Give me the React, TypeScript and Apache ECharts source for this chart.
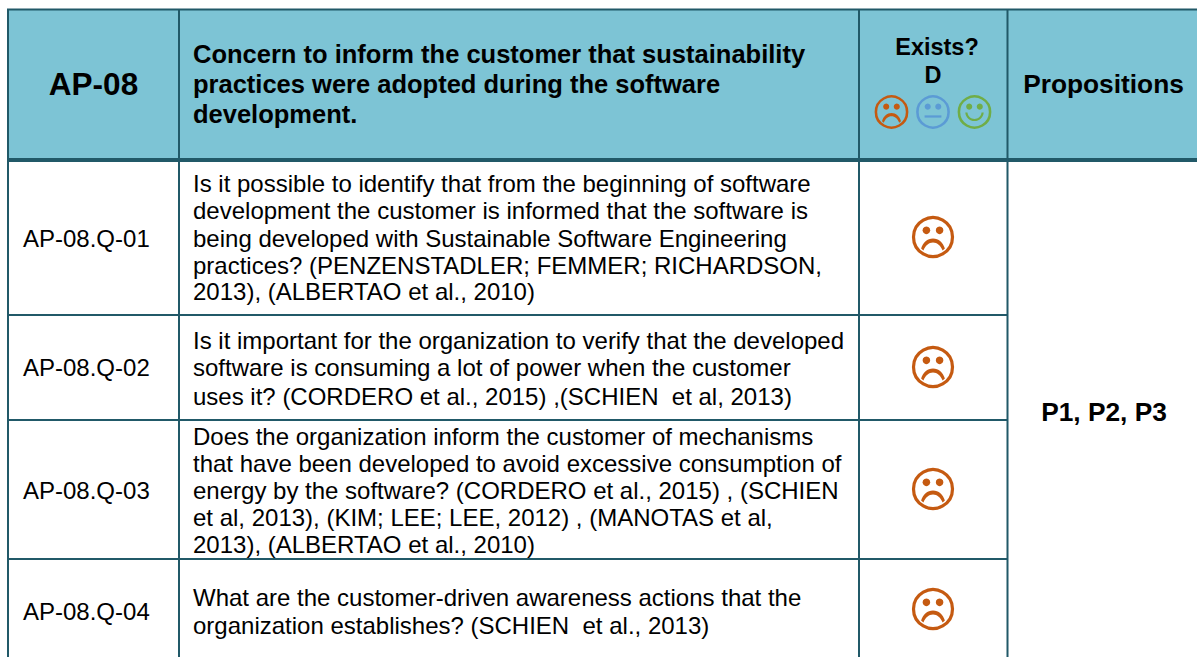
import React, { useEffect, useRef } from "react";
import * as echarts from "echarts";

const headerCode = "AP-08";
const headerTitle = [
  "Concern to inform the customer that sustainability",
  "practices were adopted during the software",
  "development.",
];
const existsLabel = ["Exists?", "D"];
const propositionsLabel = "Propositions";
const propositionsValue = "P1, P2, P3";
const questionCodes = ["AP-08.Q-01", "AP-08.Q-02", "AP-08.Q-03", "AP-08.Q-04"];
const questionLines = [
  [
    "Is it possible to identify that from the beginning of software",
    "development the customer is informed that the software is",
    "being developed with Sustainable Software Engineering",
    "practices? (PENZENSTADLER; FEMMER; RICHARDSON,",
    "2013), (ALBERTAO et al., 2010)",
  ],
  [
    "Is it important for the organization to verify that the developed",
    "software is consuming a lot of power when the customer",
    "uses it? (CORDERO et al., 2015) ,(SCHIEN  et al, 2013)",
  ],
  [
    "Does the organization inform the customer of mechanisms",
    "that have been developed to avoid excessive consumption of",
    "energy by the software? (CORDERO et al., 2015) , (SCHIEN",
    "et al, 2013), (KIM; LEE; LEE, 2012) , (MANOTAS et al,",
    "2013), (ALBERTAO et al., 2010)",
  ],
  [
    "What are the customer-driven awareness actions that the",
    "organization establishes? (SCHIEN  et al., 2013)",
  ],
];
const questionLineY = [
  [183, 210, 238, 265, 291],
  [340, 367, 396],
  [436, 463, 490, 517, 544],
  [597, 625],
];
const codeY = [238, 367, 490, 611];
const faceY = [237, 367, 489, 609];

const FONT = '"Liberation Sans", Arial, sans-serif';
const LINE = "#215968";
const HEAD = "#7DC4D5";
const ORANGE = "#C55A11";
const BLUE = "#5B9BD5";
const GREEN = "#70AD47";

echarts.graphic.registerShape(
  "frownMouth",
  echarts.graphic.extendPath(
    "M-11.9 11.6 C-10.2 5.4 -5.6 1.4 0 1.4 C5.6 1.4 10.2 5.4 11.9 11.6 L9.6 13.4 C7.6 8.4 4.2 5.4 0 5.4 C-4.2 5.4 -7.6 8.4 -9.6 13.4 Z",
    {}
  )
);
echarts.graphic.registerShape(
  "smileMouth",
  echarts.graphic.extendPath(
    "M-11.5 0.5 L-8.8 0.5 C-8.2 5.5 -4.5 8.6 0 8.6 C4.5 8.6 8.2 5.5 8.8 0.5 L11.5 0.5 C11 7.2 5.8 11.4 0 11.4 C-5.8 11.4 -11 7.2 -11.5 0.5 Z",
    {}
  )
);

function face(kind: string, cx: number, cy: number, s: number, color: string) {
  const children: any[] = [
    { type: "circle", shape: { cx: 0, cy: 0, r: 19.5 }, style: { fill: "none", stroke: color, lineWidth: 3.2 } },
    { type: "circle", shape: { cx: -6.6, cy: -6.7, r: 3.8 }, style: { fill: color } },
    { type: "circle", shape: { cx: 6.6, cy: -6.7, r: 3.8 }, style: { fill: color } },
  ];
  if (kind === "frown") children.push({ type: "frownMouth", style: { fill: color } });
  if (kind === "smile") children.push({ type: "smileMouth", style: { fill: color } });
  if (kind === "neutral")
    children.push({ type: "rect", shape: { x: -10.5, y: 4.2, width: 21, height: 2.8 }, style: { fill: color } });
  return { type: "group", x: cx, y: cy, scaleX: s, scaleY: s, children };
}

function label(text: string, x: number, y: number, size: number, bold = false, align = "left") {
  return {
    type: "text",
    x,
    y,
    style: {
      text,
      fill: "#000",
      font: `${bold ? "bold " : ""}${size}px ${FONT}`,
      textAlign: align,
      textVerticalAlign: "middle",
    },
  };
}

function hLine(x1: number, x2: number, y: number, w: number) {
  return { type: "rect", shape: { x: x1, y: y - w / 2, width: x2 - x1, height: w }, style: { fill: LINE } };
}
function vLine(x: number, y1: number, y2: number, w: number) {
  return { type: "rect", shape: { x: x - w / 2, y: y1, width: w, height: y2 - y1 }, style: { fill: LINE } };
}

function buildGraphic() {
  const els: any[] = [];
  els.push({ type: "rect", shape: { x: 8, y: 9, width: 1189, height: 151 }, style: { fill: HEAD } });
  els.push(hLine(7, 1197, 9.5, 2));
  els.push(hLine(7, 1197, 160, 4));
  [315, 420, 559].forEach((y) => els.push(hLine(8, 1007, y, 2)));
  els.push(vLine(8, 9, 657, 2));
  els.push(vLine(179, 9, 657, 2));
  els.push(vLine(859, 9, 657, 2));
  els.push(vLine(1007.5, 9, 657, 2));

  els.push(label(headerCode, 93.5, 84, 31.5, true, "center"));
  headerTitle.forEach((t, i) => els.push(label(t, 193, 54 + i * 30, 25.5, true)));
  els.push(label(existsLabel[0], 937, 47, 23.5, true, "center"));
  els.push(label(existsLabel[1], 933, 75, 23.5, true, "center"));
  els.push(label(propositionsLabel, 1103.5, 84, 26.3, true, "center"));
  els.push(label(propositionsValue, 1104, 412, 26.3, true, "center"));

  els.push(face("frown", 891.5, 112, 0.8, ORANGE));
  els.push(face("neutral", 933, 112, 0.8, BLUE));
  els.push(face("smile", 974.5, 112, 0.8, GREEN));

  questionCodes.forEach((c, i) => {
    els.push(label(c, 23, codeY[i], 24));
    questionLines[i].forEach((t, j) => els.push(label(t, 193, questionLineY[i][j], 24)));
    els.push(face("frown", 933, faceY[i], 1, ORANGE));
  });
  return els;
}

export default function App() {
  const ref = useRef<HTMLDivElement>(null);
  useEffect(() => {
    const chart = echarts.init(ref.current!, null, { renderer: "svg" });
    chart.setOption({ animation: false, graphic: { elements: buildGraphic() } });
    return () => chart.dispose();
  }, []);
  return <div ref={ref} style={{ position: "fixed", left: 0, top: 0, width: 1197, height: 657, background: "#fff" }} />;
}
